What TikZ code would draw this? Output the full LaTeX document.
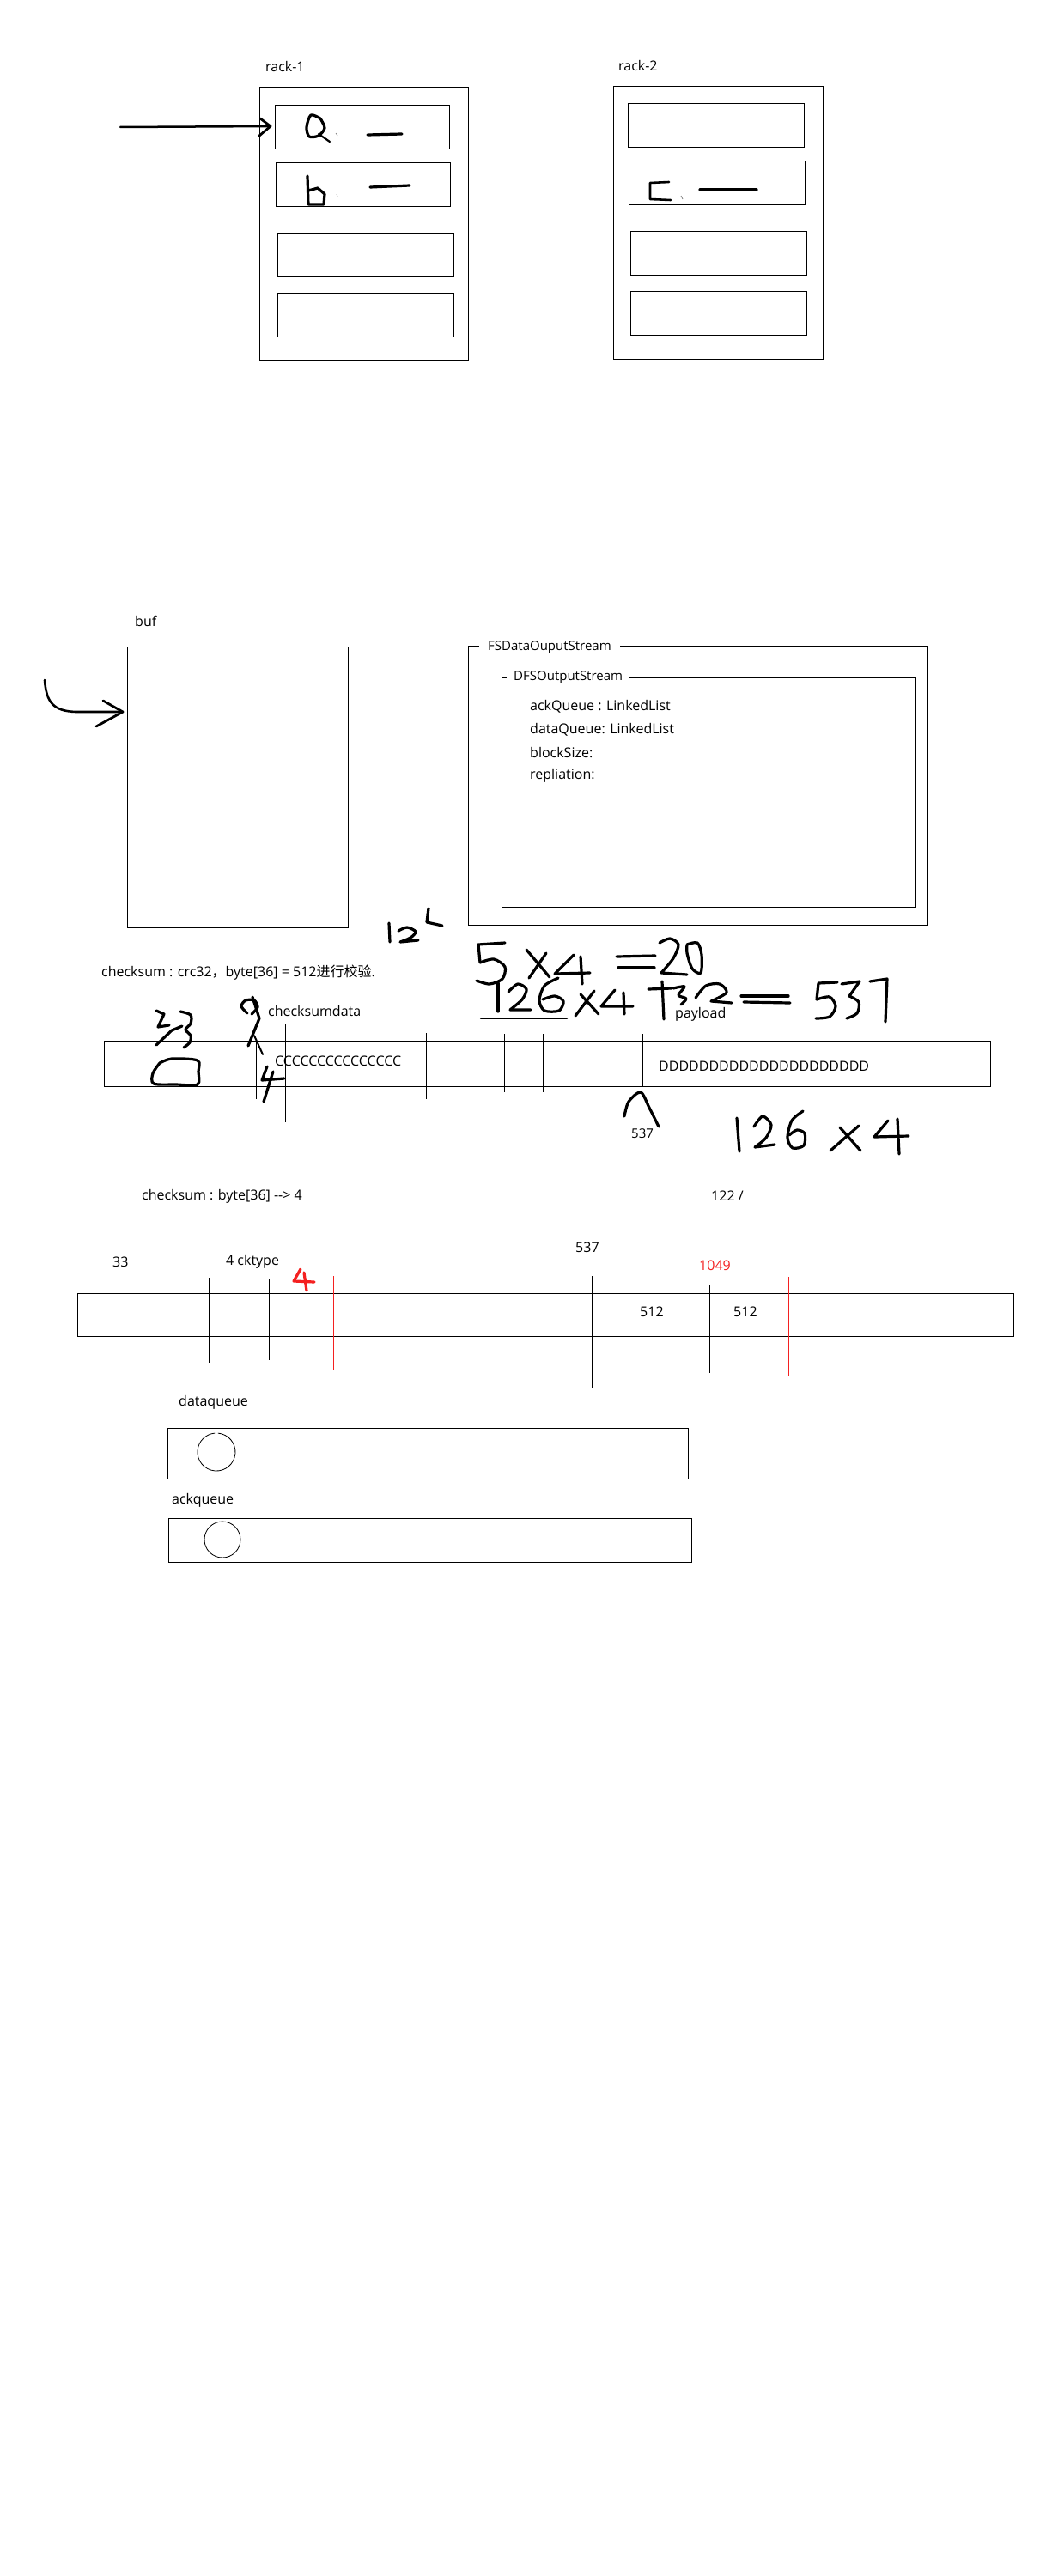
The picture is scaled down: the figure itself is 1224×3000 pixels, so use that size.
\documentclass[tikz,border=0pt]{standalone}
\usepackage{fontspec}
\setmainfont{Open Sans}
\newfontfamily\cjk{Noto Sans CJK SC}
\definecolor{myred}{HTML}{F42020}
\tikzset{
  box/.style={draw, line width=1.2pt, inner sep=0pt, anchor=north west},
  lbl/.style={inner sep=0pt, anchor=west, font=\fontsize{16}{19}\selectfont},
  smalllbl/.style={lbl, font=\fontsize{15}{18}\selectfont},
  hand/.style={line width=3.2pt, line cap=round, line join=round},
  thinln/.style={line width=1pt},
  redln/.style={draw=myred, line width=1pt},
  tick/.style={line width=0.7pt, draw=gray},
}
\begin{document}
\begin{tikzpicture}[x=1pt,y=-1pt]
\useasboundingbox (0,0) rectangle (1224,3000);
\fill[white] (0,0) rectangle (1224,3000);

% ---------------- racks ----------------
\node[lbl] (r1lbl) at (309,78) {rack-1};
\node[box, minimum width=243, minimum height=318] (rack1) at (302,101) {};
\node[box, minimum width=203, minimum height=51] (r1b1) at (320,122) {};
\node[box, minimum width=203, minimum height=51] (r1b2) at (321,189) {};
\node[box, minimum width=205, minimum height=51] (r1b3) at (323,271) {};
\node[box, minimum width=205, minimum height=51] (r1b4) at (323,341) {};

\node[lbl] (r2lbl) at (720,77) {rack-2};
\node[box, minimum width=244, minimum height=318] (rack2) at (714,100) {};
\node[box, minimum width=205, minimum height=51] (r2b1) at (731,120) {};
\node[box, minimum width=205, minimum height=51] (r2b2) at (732,187) {};
\node[box, minimum width=205, minimum height=51] (r2b3) at (734,269) {};
\node[box, minimum width=205, minimum height=51] (r2b4) at (734,339) {};

% arrow into rack-1 first slot
\coordinate (a1) at (140,148);
\coordinate (a1end) at (315,147);
\draw[line width=2.5pt, line cap=round] (a1) -- (a1end);
\draw[hand, line width=2.8pt] (303,138) -- (a1end) -- (302,158);

% a
\draw[hand] plot[smooth] coordinates {(373,138) (362,134) (357,148) (360,159) (371,158) (378,149) (373,138)};
\draw[hand, line width=2.2pt] (371,156) -- (384,165);
\draw[tick] (391,155) -- (393,158);
\draw[hand] (428,157) -- (468,156);
% b
\draw[hand] (358,205) -- (359,238) -- (377,238) -- (378,226) -- (370,219) -- (359,222);
\draw[tick] (392,226) -- (393,229);
\draw[hand] (431,218) -- (477,216);
% c
\draw[hand, line width=2.6pt] (779,212) -- (757,213) -- (757,232) -- (781,233);
\draw[tick] (793,228) -- (795,232);
\draw[hand] (815,221) -- (881,221);

% ---------------- buf / streams ----------------
\node[lbl] (buflbl) at (157,723) {buf};
\node[box, minimum width=257, minimum height=327] (buf) at (148,753) {};
\coordinate (c0) at (52,792);
\coordinate (c1) at (143,829);
\draw[line width=2.6pt, line cap=round] (c0) .. controls (54,818) and (62,828) .. (88,829) -- (c1);
\draw[hand, line width=2.8pt] (120,816) -- (c1) -- (112,846);

\node[box, minimum width=535, minimum height=325] (fsd) at (545,752) {};
\node[smalllbl, fill=white, inner xsep=10pt, inner ysep=3pt] (fsdlbl) at (558,754) {FSDataOuputStream};
\node[box, minimum width=482, minimum height=267] (dfs) at (584,789) {};
\node[smalllbl, fill=white, inner xsep=8pt, inner ysep=3pt] (dfslbl) at (590,789) {DFSOutputStream};
\node[lbl] (f1) at (617,823) {ackQueue : LinkedList};
\node[lbl] (f2) at (617,850) {dataQueue: LinkedList};
\node[lbl] (f3) at (617,877) {blockSize:};
\node[lbl] (f4) at (617,903) {repliation:};

% ---------------- packet 1 ----------------
\node[lbl] (cks) at (118,1133) {checksum : crc32{\cjk ，}byte[36] = 512{\cjk 进行校验}.};
\node[box, minimum width=1032, minimum height=53] (bar1) at (121,1212) {};
\draw[thinln] (298,1212) -- (298,1280);
\draw[thinln] (332,1192) -- (332,1307);
\draw[thinln] (496,1203) -- (496,1280);
\draw[thinln] (541,1204) -- (541,1272);
\draw[thinln] (587,1204) -- (587,1272);
\draw[thinln] (632,1204) -- (632,1272);
\draw[thinln] (683,1204) -- (683,1271);
\draw[thinln] (748,1204) -- (748,1265);
\node[lbl] (ckd) at (312,1177) {checksumdata};
\node[lbl] (ccc) at (320,1236) {CCCCCCCCCCCCCCC};
\node[lbl] (ddd) at (767,1242) {DDDDDDDDDDDDDDDDDDDDD};
\node[lbl] (pay) at (786,1181) {payload};
\node[smalllbl] (n537a) at (735,1320) {537};

% handwriting: 12^2
\draw[hand] (453,1075) -- (454,1097);
\draw[hand] plot[smooth] coordinates {(464,1084) (474,1080) (484,1085) (478,1092) (466,1097)} -- (487,1095);
\draw[hand] (499,1058) -- (497,1074) -- (515,1078);
% 5 x4 = 20
\draw[hand] (588,1098) -- (557,1100) -- (559,1121);
\draw[hand] plot[smooth] coordinates {(559,1121) (575,1117) (588,1126) (585,1140) (570,1146) (555,1142)};
\draw[hand] (613,1106) -- (640,1138);
\draw[hand] (636,1110) -- (616,1139);
\draw[hand] (668,1112) -- (646,1134) -- (687,1133);
\draw[hand] (676,1114) -- (678,1146);
\draw[hand] (718,1114) -- (763,1113);
\draw[hand] (720,1127) -- (762,1127);
\draw[hand] plot[smooth] coordinates {(768,1098) (780,1093) (790,1100) (784,1116) (770,1133)} -- (800,1135);
\draw[hand] plot[smooth] coordinates {(800,1100) (812,1098) (817,1112) (816,1133) (806,1128) (800,1110) (800,1100)};
% 126 x4 +13 = 537
\draw[hand] (580,1145) -- (580,1178);
\draw[hand] plot[smooth] coordinates {(592,1155) (603,1146) (613,1152) (608,1164) (594,1176)} -- (618,1176);
\draw[hand] plot[smooth] coordinates {(650,1139) (634,1148) (628,1165) (634,1177) (651,1177) (656,1166) (646,1160) (632,1164)};
\draw[line width=2.5pt, line cap=round] (560,1186) -- (660,1186);
\draw[hand] (670,1183) -- (692,1154);
\draw[hand] (676,1158) -- (697,1181);
\draw[hand] (716,1153) -- (700,1172) -- (737,1172);
\draw[hand] (726,1156) -- (727,1181);
\draw[hand] (755,1152) -- (782,1151);
\draw[hand] (771,1143) -- (773,1187);
\draw[hand] plot[smooth] coordinates {(784,1151) (797,1149) (790,1159) (799,1163) (793,1170)};
\draw[hand] plot[smooth] coordinates {(810,1162) (822,1148) (838,1146) (846,1156) (828,1166)} -- (852,1168);
\draw[hand] (863,1160) -- (918,1160);
\draw[hand] (866,1167) -- (920,1168);
\draw[hand] (975,1144) -- (953,1145) -- (951,1164);
\draw[hand] plot[smooth] coordinates {(951,1164) (966,1161) (973,1172) (966,1184) (950,1186)};
\draw[hand] (980,1146) -- (1001,1143) -- (989,1160);
\draw[hand] plot[smooth] coordinates {(989,1160) (1000,1167) (998,1180) (986,1186)};
\draw[hand] (1013,1143) -- (1033,1140) -- (1031,1190);
% left scribble
\draw[hand] (182,1177) -- (191,1181) -- (184,1196) -- (197,1194);
\draw[hand] (182,1217) -- (200,1200) -- (212,1195);
\draw[hand] plot[smooth] coordinates {(210,1178) (222,1182) (222,1192) (216,1199) (222,1206) (221,1214) (214,1220)};
\draw[hand] plot[smooth] coordinates {(186,1238) (178,1250) (179,1262) (205,1263) (230,1263) (231,1248) (230,1235) (200,1233) (186,1238)};
% 9-like and 4
\draw[hand] plot[smooth] coordinates {(288,1180) (281,1172) (286,1165) (296,1165) (300,1173) (293,1181)};
\draw[hand] (294,1161) -- (302,1186) -- (289,1218);
\draw[hand, line width=2pt] (296,1206) -- (306,1228);
\draw[hand] (311,1242) -- (305,1258) -- (331,1256);
\draw[hand] (318,1248) -- (307,1283);
% caret under bar
\draw[hand] plot[smooth] coordinates {(727,1300) (732,1283) (746,1272) (756,1290) (767,1312)};
% 126 x4 (lower)
\draw[hand] (858,1302) -- (861,1341);
\draw[hand] plot[smooth] coordinates {(878,1312) (888,1300) (898,1310) (892,1325) (879,1336)} -- (902,1333);
\draw[hand] plot[smooth] coordinates {(935,1294) (922,1305) (917,1325) (923,1337) (936,1334) (937,1320) (928,1316) (919,1322)};
\draw[hand] (967,1340) -- (1000,1311);
\draw[hand] (978,1313) -- (1002,1340);
\draw[hand] (1034,1305) -- (1018,1324) -- (1058,1323);
\draw[hand] (1045,1303) -- (1047,1344);

% ---------------- packet 2 ----------------
\node[lbl] (cks2) at (165,1393) {checksum : byte[36] {-}{-}> 4};
\node[lbl] (n122) at (828,1393) {122 /};
\node[lbl] (n537b) at (670,1453) {537};
\node[lbl] (n33) at (131,1470) {33};
\node[lbl] (ckt) at (263,1469) {4 cktype};
\node[lbl, text=myred] (n1049) at (814,1474) {1049};
\node[box, minimum width=1090, minimum height=50] (bar2) at (90,1506) {};
\draw[thinln] (243,1488) -- (243,1587);
\draw[thinln] (313,1489) -- (313,1584);
\draw[redln] (388,1486) -- (388,1595);
\draw[thinln] (689,1486) -- (689,1617);
\draw[thinln] (826,1497) -- (826,1599);
\draw[redln] (918,1487) -- (918,1602);
\node[lbl] (n512a) at (745,1528) {512};
\node[lbl] (n512b) at (854,1528) {512};
\draw[hand, draw=myred] (350,1478) -- (342,1492) -- (366,1493);
\draw[hand, draw=myred] (354,1482) -- (357,1503);

% ---------------- queues ----------------
\node[lbl] (dq) at (208,1633) {dataqueue};
\node[box, minimum width=606, minimum height=59] (dqbox) at (195,1663) {};
\draw[line width=0.8pt] (252,1691) ++(275:22) arc[start angle=275, end angle=625, radius=22];
\node[lbl] (aq) at (200,1747) {ackqueue};
\node[box, minimum width=609, minimum height=51] (aqbox) at (196,1768) {};
\draw[line width=0.8pt] (259,1793) circle[radius=21];
\end{tikzpicture}
\end{document}
